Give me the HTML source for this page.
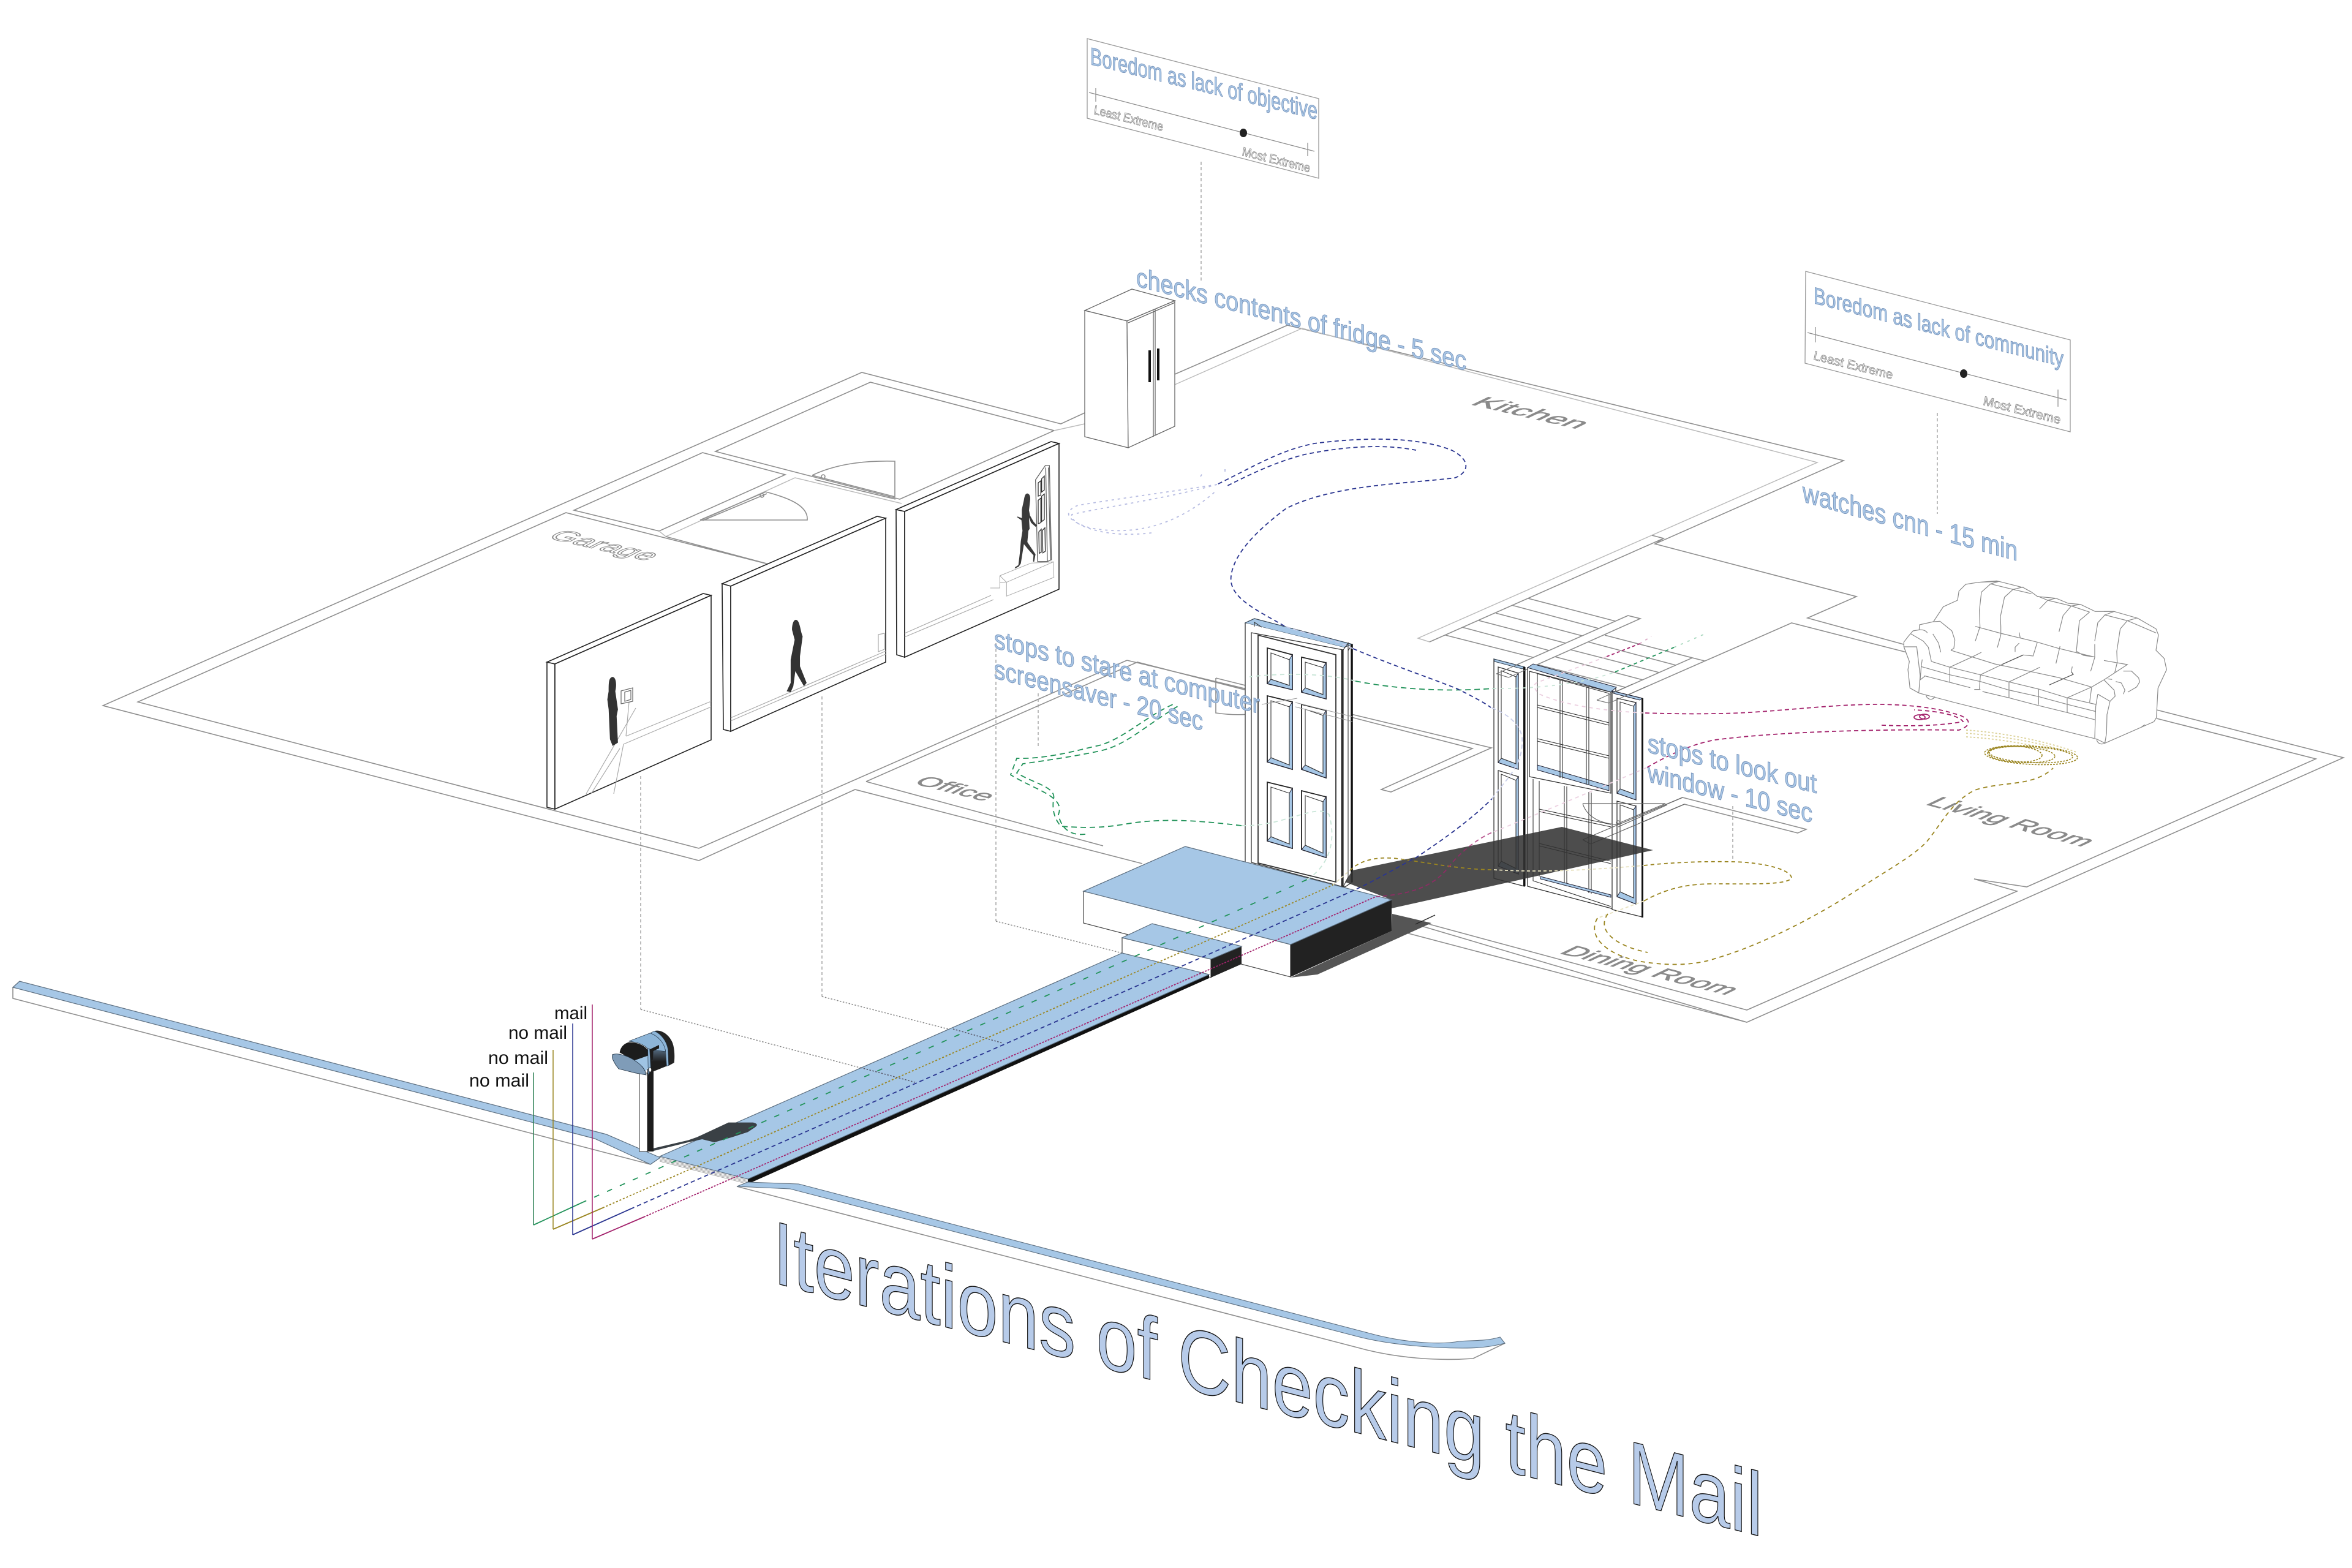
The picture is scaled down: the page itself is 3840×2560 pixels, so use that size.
<!DOCTYPE html>
<html><head><meta charset="utf-8"><title>Iterations of Checking the Mail</title>
<style>
html,body{margin:0;padding:0;background:#fff}
svg{display:block}
text{font-family:"Liberation Sans",sans-serif}
.w{fill:none;stroke:#8f8f8f;stroke-width:1.6}
.wl{fill:none;stroke:#bcbcbc;stroke-width:1.5}
.lb{fill:#a8c6e6;stroke:#7a96bc;stroke-width:1}
.rm{fill:#8a8a8a;stroke:#8a8a8a;stroke-width:.6}
.ex{fill:#fff;stroke:#8a8a8a;stroke-width:.9;font-style:italic}
.bl{fill:#a6c7e6;stroke:#5d6f80;stroke-width:1.2}
.pn{fill:#fff;stroke:#222;stroke-width:1.8}
.fr{fill:#fff;stroke:#333;stroke-width:1.3}
.bv{fill:#a6c7e6;stroke:#223;stroke-width:1}
.th{fill:none;stroke:#333;stroke-width:1.1}
.ld{fill:none;stroke:#999;stroke-width:1.3;stroke-dasharray:5 4}
.dt{fill:none;stroke:#888;stroke-width:1.5;stroke-dasharray:2.5 2.5}
.g{fill:none;stroke:#22935a;stroke-width:1.8}
.y{fill:none;stroke:#9a8520;stroke-width:1.8}
.n{fill:none;stroke:#2a3590;stroke-width:1.8}
.m{fill:none;stroke:#a3226c;stroke-width:1.8}
</style></head><body>
<svg xmlns="http://www.w3.org/2000/svg" width="3840" height="2560" viewBox="0 0 3840 2560">
<defs><linearGradient id="mb" gradientUnits="userSpaceOnUse" x1="0" y1="85" x2="0" y2="190"><stop offset="0" stop-color="#7ba3c9"/><stop offset="1" stop-color="#1e1e1e"/></linearGradient></defs>
<rect width="3840" height="2560" fill="#fff"/>

<!-- FLOOR PLAN -->
<g>
<path class="w" d="M1141,1405 L168,1152 L1407,608 L1732,692 L1771,674"/>
<path class="w" d="M1141,1385 L225,1146 L924,837 L1250,920"/>
<path class="w" d="M1141,1405 L1396,1289 L1865,1410"/>
<path class="w" d="M1141,1385 L1840,1078"/>
<path class="w" d="M1414,1276 L1857,1081 L2404,1222 L2255,1289 L2271,1293 L2435,1221 L1840,1078"/>
<path class="w" d="M1414,1276 L1801,1381"/>
<path class="w" d="M1168,737 L1421,624 L1721,703 L1469,815 Z"/>
<path class="wl" d="M1721,703 L1771,692"/>
<path class="w" d="M937,833 L1147,739 L1282,775 L1076,867 Z"/>
<path class="wl" d="M1076,867 L1087,876 L1298,780 L1472,822"/>
<path class="w" d="M1087,876 L1270,925"/>
<path class="wl" d="M1250,920 L1290,926 L1410,875 L1440,882"/>
<path class="w" d="M1326,776 L1461,811 M1330,783 L1462,815 M1326,776 C1370,755 1420,752 1461,753 L1461,811"/>
<path class="w" d="M1143,849 L1250,803 M1147,850 L1252,806 M1143,849 L1318,849 C1320,825 1285,812 1250,803"/>
<circle cx="1344" cy="778" r="3" class="w"/><circle cx="1244" cy="809" r="3" class="w"/>
<path class="w" d="M1918,611 L2102,531 L3010,752 L2702,888 L3031,974 L2951,1009 L3108,1052"/>
<path class="wl" d="M1918,628 L2126,536 L2967,755 L2315,1042 L2334,1048"/>
<path class="w" d="M2334,1048 L2716,879 L2697,874 M2716,879 L2702,888"/>
<path class="w" d="M3521,1159 L3826,1237 L2852,1669 L2311,1509 M2343,1494 L2311,1509 L2319,1505"/>
<path class="w" d="M3521,1173 L3781,1239 L3309,1448 L3223,1435 L3293,1455 L2852,1649 L2319,1505"/>
<path class="w" d="M2273,1517 L2852,1669"/>
<path class="w" d="M3113,1065 L2925,1017 L2627,1148 L2607,1143 L2763,1074 L2620,1037 M2763,1074 L2783,1079"/>
<path class="w" d="M2584,1371 L2747,1302 L2949,1354 L2935,1360 L2750,1313 L2597,1378 Z"/>
<!-- stairs -->
<path class="w" d="M2495,977 L2637,1014 M2468,988 L2610,1026 M2442,1001 L2583,1038 M2414,1013 L2556,1050 M2387,1024 L2529,1062 M2360,1037 L2502,1073"/>
<path class="w" d="M2658,1005 L2678,1010 L2463,1106 L2443,1100 Z"/>
<path class="w" d="M2593,1048 L2736,1086 M2565,1061 L2709,1098 M2538,1072 L2682,1110 M2510,1085 L2653,1122"/>
<!-- doors arcs -->
<path class="w" d="M1985,1107 L1985,1164 C2040,1172 2085,1162 2118,1140 L1985,1107"/>
</g>

<!-- room labels -->
<text class="rm" transform="matrix(1 .23 -1.3 .62 2399 660)" font-size="30" textLength="176" lengthAdjust="spacingAndGlyphs">Kitchen</text>
<text class="rm" transform="matrix(1 .25 -1.1 .62 1490 1279)" font-size="30" textLength="118" lengthAdjust="spacingAndGlyphs">Office</text>
<text class="rm" transform="matrix(1 .25 -1.3 .62 2544 1556)" font-size="30" textLength="275" lengthAdjust="spacingAndGlyphs">Dining Room</text>
<text class="rm" transform="matrix(1 .27 -1.3 .62 3142 1313)" font-size="30" textLength="258" lengthAdjust="spacingAndGlyphs">Living Room</text>
<text transform="matrix(1 .23 -1.2 .62 892 878)" font-size="32" fill="#fff" stroke="#8a8a8a" stroke-width="1.1" textLength="165" lengthAdjust="spacingAndGlyphs">Garage</text>

<!-- leaders -->
<path class="ld" d="M1961,264 L1961,462"/>
<path class="ld" d="M3163,674 L3163,839"/>
<path class="ld" d="M2829,1316 L2829,1403"/>
<path class="ld" d="M1695,1132 L1695,1219"/>
<path class="ld" d="M1046,1267 L1046,1648"/>
<path class="ld" d="M1342,1137 L1342,1627"/>
<path class="ld" d="M1626,1050 L1626,1504"/>
<path class="dt" d="M1046,1648 L1494,1767"/>
<path class="dt" d="M1342,1627 L1637,1703"/>
<path class="dt" d="M1626,1504 L1832,1556"/>

<!-- panels (stills) -->
<g>
<path d="M893,1081 L1148,969 L1161,972 L906,1084 Z M893,1081 L906,1084 L906,1321 L893,1318 Z" fill="#fff" stroke="#222" stroke-width="1.6"/>
<path d="M906,1084 L1161,972 L1161,1208 L906,1321 Z" fill="#fff" stroke="#222" stroke-width="1.6"/>
<path d="M1161,1145 L1022,1202 M1161,1154 L1018,1215 M1018,1215 L1002,1296 M1038,1156 L957,1296 M1022,1202 L1028,1135 M1012,1222 L965,1296" fill="none" stroke="#aaa" stroke-width="1.2"/>
<path d="M1014,1128 L1033,1123 L1033,1145 L1014,1149 Z M1020,1130 L1030,1127 L1030,1142 L1020,1145 Z" fill="#fff" stroke="#666" stroke-width="1.2"/>
<path d="M1179,953 L1432,843 L1446,846 L1193,957 Z M1179,953 L1193,957 L1193,1194 L1181,1191 Z" fill="#fff" stroke="#222" stroke-width="1.6"/>
<path d="M1193,957 L1446,846 L1446,1081 L1193,1194 Z" fill="#fff" stroke="#222" stroke-width="1.6"/>
<path d="M1193,1172 L1446,1063 M1193,1177 L1446,1068 M1434,1036 L1444,1034 L1444,1060 L1434,1064 Z" fill="none" stroke="#aaa" stroke-width="1.2"/>
<path d="M1463,832 L1716,721 L1729,724 L1477,835 Z M1463,832 L1477,835 L1477,1073 L1464,1069 Z" fill="#fff" stroke="#222" stroke-width="1.6"/>
<path d="M1477,835 L1729,724 L1729,962 L1477,1073 Z" fill="#fff" stroke="#222" stroke-width="1.6"/>
<path d="M1477,1034 L1618,972 M1477,1040 L1622,979" fill="none" stroke="#aaa" stroke-width="1.2"/>
<g transform="translate(1600 760) scale(.3333)" fill="none">
<path d="M97,540 L250,478 L360,472 L362,548 L130,640 L130,572 L97,540 M130,572 L360,472 M97,540 L97,600 L50,600 M97,575 L130,570" fill="#fff" stroke="#aaa" stroke-width="3"/>
<path d="M272,70 L320,0 L340,0 L350,462 L330,470 L282,470 Z M282,470 L272,70 M322,10 L330,468 M335,10 L345,462" fill="#fff" stroke="#666" stroke-width="4"/>
<path d="M285,85 L298,75 L298,145 L285,150 Z M302,65 L315,52 L315,120 L302,130 Z M285,170 L298,160 L298,280 L285,285 Z M302,150 L315,140 L315,265 L302,275 Z M288,325 L300,312 L300,425 L290,430 Z M305,318 L318,305 L320,420 L308,428 Z" stroke="#333" stroke-width="4"/>
<path fill="#3a3a3a" d="M232,137 C245,140 248,155 245,175 L240,220 L245,245 L262,275 L280,295 L272,300 L250,280 L240,255 L243,310 L237,320 L232,375 L245,395 L272,435 L265,472 L260,470 L262,440 L235,410 L215,385 L200,480 L190,495 L170,505 L172,498 L188,488 L195,430 L200,370 L208,320 L205,290 L203,268 L180,252 L185,250 L205,258 L205,215 L215,170 C218,150 222,137 232,137Z"/>
</g>
<g transform="matrix(1.0846 0 0 .542 100 600)" fill="#333">
<path d="M830,932 C836,934 836,960 834,975 L838,1030 L836,1050 L838,1130 L830,1140 L826,1120 L824,1030 L822,1000 L824,975 C824,950 824,934 830,932Z"/>
<path d="M1106,760 C1112,762 1112,790 1116,810 L1112,870 L1112,900 L1122,950 L1118,960 L1105,915 L1102,960 L1098,978 L1092,975 L1098,950 L1098,880 L1104,820 L1100,790 C1100,775 1102,760 1106,760Z"/>
</g>
</g>

<!-- fridge -->
<g fill="#fff" stroke="#666" stroke-width="1.3">
<path d="M1771,507 L1848,472 L1918,491 L1840,524 Z"/>
<path d="M1771,507 L1840,524 L1842,731 L1771,713 Z"/>
<path d="M1840,524 L1918,491 L1918,696 L1842,731 Z"/>
<path d="M1883,507 L1883,713 M1886,505 L1886,711" fill="none"/>
<path d="M1842,527 L1918,494" fill="none"/>
</g>
<rect x="1875" y="572" width="4" height="52" fill="#111"/><rect x="1889" y="569" width="4" height="52" fill="#111"/>

<!-- sofa -->
<g transform="translate(3090 930) scale(.3333)" fill="none" stroke="#8a8a8a" stroke-width="3.6">
<path fill="#fff" d="M200,255 L248,182 L318,150 L325,105 L358,72 L420,62 L510,55 L640,88 L680,110 L710,132 L800,140 L860,165 L920,170 L992,205 L1085,205 L1200,238 L1290,290 L1302,320 L1290,395 L1330,435 L1342,490 L1300,580 L1292,725 L1280,745 L1040,850 L1000,830 L780,775 L440,685 L300,650 L130,605 L85,580 L75,490 L82,450 L55,378 L55,355 L78,325 L100,300 L130,295 L132,270 Z"/>
<path d="M90,315 L150,350 L175,380 L190,450 M130,295 C150,293 165,300 170,310 M55,378 L118,378 L135,520 L128,605 M200,255 L232,253 L290,300 L305,345 L300,385 L285,395 M197,315 L225,360 L236,405 M145,440 L140,475 L135,540 L160,520"/>
<path d="M190,450 L280,478 L430,515 L570,550 L715,585 L855,628 L995,660 M140,475 L280,515 L430,548 L570,590 L715,622 L855,660 L995,695 M155,520 L280,552 L380,578 M440,597 L570,628 L700,662 L855,700 L990,735 M400,587 L430,587 M280,478 L280,552 M430,515 L425,587 M570,550 L570,628 M715,585 L715,662 M855,628 L855,700"/>
<path d="M285,395 L500,462 L680,500 L810,528 L975,575 M280,478 L395,425 L435,405 M430,515 L535,465 L640,418 L688,423 L708,358 M570,550 L680,498 L722,478 M855,628 L975,575 L1035,540 L1150,465 L1035,445 M875,500 L880,475"/>
<path stroke="#555" d="M767,565 L885,513 L875,500 M535,465 L640,418"/>
<path d="M405,278 L530,312 L625,335 L708,355 L810,385 L905,408 L990,428 M480,70 L435,110 L425,200 L428,280 L405,350 M590,97 L548,135 L528,230 L530,280 L530,320 L513,382 M760,150 L720,192 M875,178 L835,225 L815,305 M820,375 L800,460 M965,208 L915,250 L900,400 L935,420 L990,428 M1040,222 L1005,260 L990,350 M990,365 L990,430 L970,498 M1150,250 L1115,290 L1098,400 L1100,455 L1088,505 M620,308 L625,335 M620,360 L600,380 L600,403"/>
<path d="M420,62 L520,58 L480,70 L590,97 L640,85 M590,97 L680,118 M710,130 L760,150 L800,140 M760,150 L875,178 L920,170 M875,178 L965,208 M1035,205 L1085,205 L1040,222 L1150,250 L1195,238 M1150,250 L1290,310"/>
<path d="M975,575 L965,650 M1005,610 L1065,645 L1050,710 L1048,800 L1040,848 M1005,610 L995,670 L990,825 M1035,540 L1085,590 L1090,620 L1065,645 M1130,497 L1170,497 L1205,530 L1210,550 L1195,575 L1152,600 M1093,548 L1120,555 L1138,590 L1130,610 M1052,535 L1075,538"/>
<path d="M163,612 C165,635 195,645 207,622 M1000,830 C1000,850 1020,860 1040,850 M1220,770 L1235,760"/>
</g>

<!-- cards -->
<path d="M1775,63 L2153,161 L2153,291 L1775,193 Z" fill="#fff" stroke="#999" stroke-width="1.3"/>
<path d="M1778,151 L2146,247 M1789,144 L1789,166 M2135,233 L2135,255" fill="none" stroke="#8a8a8a" stroke-width="1.2"/>
<ellipse cx="2030" cy="217" rx="6" ry="7" fill="#222"/>
<text class="lb" transform="matrix(1 .243 0 1 1780 105)" font-size="40" textLength="371" lengthAdjust="spacingAndGlyphs">Boredom as lack of objective</text>
<text class="ex" transform="matrix(1 .25 0 1 1786 186)" font-size="21" textLength="113" lengthAdjust="spacingAndGlyphs">Least Extreme</text>
<text class="ex" transform="matrix(1 .25 0 1 2028 254)" font-size="21" textLength="111" lengthAdjust="spacingAndGlyphs">Most Extreme</text>

<path d="M2948,443 L3380,555 L3380,705 L2947,593 Z" fill="#fff" stroke="#999" stroke-width="1.3"/>
<path d="M2951,543 L3374,653 M2964,534 L2964,559 M3360,636 L3360,664" fill="none" stroke="#8a8a8a" stroke-width="1.2"/>
<ellipse cx="3206" cy="610" rx="6" ry="7" fill="#222"/>
<text class="lb" transform="matrix(1 .255 0 1 2961 495)" font-size="38" textLength="408" lengthAdjust="spacingAndGlyphs">Boredom as lack of community</text>
<text class="ex" transform="matrix(1 .25 0 1 2961 587)" font-size="21" textLength="129" lengthAdjust="spacingAndGlyphs">Least Extreme</text>
<text class="ex" transform="matrix(1 .25 0 1 3238 661)" font-size="21" textLength="126" lengthAdjust="spacingAndGlyphs">Most Extreme</text>

<!-- WINDOW + SHUTTERS -->
<g>
<path d="M2439,1076 L2489,1089 L2489,1447 L2439,1434 Z" class="fr"/>
<path d="M2439,1076 L2489,1089 L2485,1092 L2440,1080 Z" fill="#a6c7e6" stroke="#345" stroke-width="1"/>
<path class="fr" d="M2446,1089 L2479,1099 L2479,1256 L2446,1245 Z"/>
<path class="bv" d="M2479,1099 L2479,1256 L2446,1245 L2451,1238 L2475,1247 L2475,1105Z"/>
<path class="th" d="M2451,1095 L2475,1105 L2475,1247 L2451,1238Z"/>
<path class="fr" d="M2446,1258 L2479,1268 L2479,1427 L2446,1414 Z"/>
<path class="bv" d="M2479,1268 L2479,1427 L2446,1414 L2451,1406 L2475,1418 L2475,1274Z"/>
<path class="th" d="M2451,1264 L2475,1274 L2475,1418 L2451,1406Z"/>
<rect x="2487" y="1089" width="3.5" height="358" fill="#111"/>

<path class="fr" d="M2494,1090 L2638,1124 L2638,1485 L2494,1447 Z"/>
<path class="bv" d="M2494,1090 L2503,1084 L2639,1122 L2630,1130 Z"/>
<path class="fr" d="M2497,1096 L2630,1130 L2630,1295 L2497,1268 Z"/>
<path class="th" d="M2510,1100 L2627,1132 L2627,1283 L2510,1257 Z"/>
<path class="bv" d="M2510,1257 L2627,1291 L2627,1283 L2510,1249 Z"/>
<path class="th" d="M2547,1110 L2547,1270 M2551,1111 L2551,1271 M2590,1121 L2590,1280 M2594,1122 L2594,1281 M2510,1151 L2627,1180 M2510,1155 L2627,1184 M2510,1206 L2627,1234 M2510,1210 L2627,1238"/>
<path class="th" d="M2503,1272 L2503,1438 L2630,1480 M2513,1275 L2513,1431 M2554,1283 L2554,1445 M2558,1284 L2558,1447 M2594,1293 L2594,1458 M2598,1294 L2598,1459 M2513,1321 L2630,1346 M2513,1325 L2630,1350 M2513,1377 L2630,1406 M2513,1381 L2630,1410"/>
<path class="bv" d="M2515,1431 L2630,1461 L2630,1465 L2515,1435 Z"/>

<path class="fr" d="M2632,1128 L2681,1140 L2681,1497 L2632,1485 Z"/>
<path class="bv" d="M2632,1128 L2681,1140 L2677,1143 L2634,1132 Z"/>
<path class="fr" d="M2640,1140 L2671,1147 L2671,1306 L2640,1295 Z"/>
<path class="bv" d="M2671,1147 L2671,1306 L2640,1295 L2645,1288 L2667,1296 L2667,1153Z"/>
<path class="th" d="M2645,1146 L2667,1153 L2667,1296 L2645,1288Z"/>
<path class="fr" d="M2640,1308 L2671,1316 L2671,1476 L2640,1464 Z"/>
<path class="bv" d="M2671,1316 L2671,1476 L2640,1464 L2645,1456 L2667,1466 L2667,1322Z"/>
<path class="th" d="M2645,1314 L2667,1322 L2667,1466 L2645,1456Z"/>
<rect x="2680" y="1140" width="3" height="358" fill="#111"/>
</g>
<!-- plan lines showing through window -->
<path d="M2443,1100 L2463,1106 L2490,1094 M2443,1100 L2480,1084 M2607,1143 L2627,1148 L2690,1120 M2607,1143 L2665,1117" fill="none" stroke="#777" stroke-width="1.2"/>
<path d="M2584,1312 L2719,1312 L2638,1346 C2610,1344 2590,1332 2584,1312 M2722,1314 L2642,1350 M2584,1371 L2747,1302 M2597,1378 L2750,1313 M2584,1371 L2597,1378" fill="none" stroke="#666" stroke-width="1.2"/>
<circle cx="2642" cy="1343" r="3" fill="none" stroke="#666" stroke-width="1.2"/>

<!-- FRONT DOOR -->
<g>
<path class="fr" d="M2048,1010 L2208,1052 L2208,1440 L2196,1448 L2033,1408 L2033,1017 Z"/>
<path d="M2033,1017 L2048,1010 L2208,1052 L2194,1057 Z" fill="#a6c7e6" stroke="#345" stroke-width="1"/>
<path d="M2038,1019 L2194,1060 L2194,1057 L2033,1017 Z" fill="#fff"/>
<path class="fr" d="M2043,1033 L2193,1061 L2193,1448 L2043,1408 Z"/>
<path class="fr" d="M2054,1037 L2181,1069 L2181,1440 L2054,1409 Z" style="stroke-width:1.8"/>
<path class="th" d="M2048,1023 L2048,1016 L2060,1024 M2193,1061 L2201,1050 L2201,1432 L2193,1448 M2208,1052 L2201,1062"/>
<path d="M2207,1052 L2207,1440" stroke="#111" stroke-width="3.4"/>
<path d="M2191,1061 L2191,1448" stroke="#111" stroke-width="2.2"/>
<g>
<path class="pn" d="M2069,1058 L2110,1069 L2110,1126 L2069,1116 Z"/><path class="bv" d="M2110,1069 L2110,1126 L2069,1116 L2075,1109 L2105,1119 L2105,1077Z"/><path class="th" d="M2075,1066 L2105,1077 L2105,1119 L2075,1109Z"/>
<path class="pn" d="M2125,1073 L2165,1082 L2165,1141 L2125,1130 Z"/><path class="bv" d="M2165,1082 L2165,1141 L2125,1130 L2131,1123 L2160,1134 L2160,1090Z"/><path class="th" d="M2131,1081 L2160,1090 L2160,1134 L2131,1123Z"/>
<path class="pn" d="M2069,1136 L2110,1146 L2110,1256 L2069,1244 Z"/><path class="bv" d="M2110,1146 L2110,1256 L2069,1244 L2075,1237 L2105,1249 L2105,1154Z"/><path class="th" d="M2075,1144 L2105,1154 L2105,1249 L2075,1237Z"/>
<path class="pn" d="M2125,1150 L2165,1160 L2165,1270 L2125,1256 Z"/><path class="bv" d="M2165,1160 L2165,1270 L2125,1256 L2131,1249 L2160,1263 L2160,1168Z"/><path class="th" d="M2131,1158 L2160,1168 L2160,1263 L2131,1249Z"/>
<path class="pn" d="M2069,1277 L2110,1287 L2110,1385 L2069,1373 Z"/><path class="bv" d="M2110,1287 L2110,1385 L2069,1373 L2075,1366 L2105,1378 L2105,1295Z"/><path class="th" d="M2075,1285 L2105,1295 L2105,1378 L2075,1366Z"/>
<path class="pn" d="M2125,1291 L2165,1301 L2165,1400 L2125,1387 Z"/><path class="bv" d="M2165,1301 L2165,1400 L2125,1387 L2131,1380 L2160,1393 L2160,1309Z"/><path class="th" d="M2131,1299 L2160,1309 L2160,1393 L2131,1380Z"/>
</g>
<path d="M2115,1147 L2208,1170 M2115,1154 L2208,1178 M2060,1150 L2118,1140" fill="none" stroke="#999" stroke-width="1"/>
</g>

<!-- BLOCK + SHADOWS -->
<path d="M2107,1596 L2151,1591 L2337,1507 L2273,1492 L2272,1520 Z" fill="#555"/>
<path d="M2196,1440 L2208,1421 L2550,1350 L2699,1388 L2272,1483 L2272,1469 Z" fill="#333" opacity=".87"/>
<path d="M2343,1494 L2311,1509 L2319,1505" fill="none" stroke="#222" stroke-width="1"/>
<path d="M1769,1455 L2107,1542 L2107,1595 L1769,1507 Z" fill="#fff" stroke="#444" stroke-width="1.2"/>
<path d="M2107,1542 L2272,1469 L2272,1520 L2107,1595 Z" fill="#222"/>
<path class="bl" d="M1935,1382 L2272,1469 L2107,1542 L1769,1455 Z"/>
<path d="M1832,1531 L1977,1566 L1977,1596 L1832,1556 Z" fill="#fff" stroke="#444" stroke-width="1.2"/>
<path d="M1977,1566 L2027,1545 L2027,1574 L1977,1596 Z" fill="#222"/>
<path class="bl" d="M1881,1508 L2027,1545 L1977,1566 L1832,1531 Z"/>

<!-- WALKWAY -->
<path d="M1221,1925 L1974,1591 L1974,1597 L1221,1933 Z" fill="#111"/>
<path class="bl" d="M1077,1888 L1832,1556 L1974,1591 L1221,1925 Z"/>
<path d="M1077,1890 L1221,1927 M1077,1892 L1221,1929 M1077,1894 L1221,1931 M1077,1896 L1221,1933" stroke="#999" stroke-width=".9" fill="none"/>
<path class="dt" d="M1405,1743 L1494,1767 M1556,1680 L1637,1703" style="stroke:#556"/>
<!-- mailbox shadow -->
<g transform="matrix(.574 0 0 .3333 1000 1600)">
<path fill="#3a4045" d="M115,825 L215,785 L240,770 L330,698 L400,698 C415,705 412,712 405,722 L385,745 L340,770 L290,795 L255,780 L215,795 L115,838 Z"/>
</g>

<!-- ROADS -->
<path class="w" d="M21,1612 L21,1630 L1062,1901"/>
<path class="bl" d="M32,1602 L21,1612 L971,1859 L1062,1901 L1078,1890 L990,1852 Z"/>
<path class="w" d="M1203,1937 L2216,2200 C2280,2218 2350,2222 2405,2218 L2457,2193"/>
<path d="M1221,1930 L1304,1933 L2233,2176 C2290,2192 2350,2196 2382,2190 C2405,2188 2425,2190 2449,2183 L2457,2193 C2430,2200 2410,2201 2388,2201 C2340,2201 2270,2196 2216,2182 L1290,1941 L1203,1937 Z" fill="#a6c7e6" stroke="#5d6f80" stroke-width="1.1"/>

<!-- MAILBOX -->
<rect x="1044" y="1752" width="13" height="128" fill="#fff" stroke="#333" stroke-width="1"/>
<rect x="1057" y="1745" width="10" height="135" fill="#1c1c1c"/>
<g transform="translate(990 1670) scale(.3333)">
<path d="M235,40 C270,30 310,60 325,100 C335,130 335,170 332,195 L305,210 L300,130 C295,90 270,55 235,40 Z" fill="#242424"/>
<path d="M215,50 L235,40 C270,55 295,90 302,130 L305,208 L295,212 L290,140 C285,100 255,65 215,50 Z" fill="#8db5d8" stroke="#234" stroke-width="2"/>
<path d="M205,125 L290,130 L295,212 L225,240 L205,255 Z" fill="url(#mb)"/>
<path d="M110,90 L215,50 C255,65 285,100 290,140 L205,130 C190,110 160,95 110,90 Z" fill="#8db5d8" stroke="#234" stroke-width="2"/>
<path d="M65,145 C70,115 90,100 110,95 C160,95 190,115 205,135 L205,170 L135,185 Z" fill="#1c1c1c"/>
<path d="M135,185 L205,160 L205,220 L190,240 Z" fill="#9fc4e4"/>
<path d="M203,125 L212,128 L218,232 L205,255 Z" fill="#8db5d8" stroke="#234" stroke-width="2"/>
<path d="M212,130 L258,108 L258,125 L230,138 L228,180 L218,185 Z" fill="#1c1c1c"/>
<path d="M30,155 C60,145 110,165 140,185 C170,205 190,225 195,255 L140,245 L60,225 L45,205 C35,185 25,175 30,155 Z" fill="#7f9cb8" stroke="#234" stroke-width="2.5"/>
<ellipse cx="214" cy="230" rx="7" ry="11" fill="#fff" stroke="#222" stroke-width="2.5"/>
</g>

<!-- PATHS: ghosts -->
<g fill="none" stroke-width="1.8">
<path stroke="#b8bde2" stroke-dasharray="4 6" d="M1987,791 C1930,800 1820,815 1760,825 C1735,835 1740,850 1780,862 C1850,875 1920,860 1987,800 M1987,791 C1900,815 1790,830 1750,840 C1745,855 1800,880 1880,870"/>
<path stroke="#b8bde2" stroke-dasharray="4 6" d="M1960,778 L1965,770 M2000,770 L2000,760"/>
<path stroke="#c9cee9" stroke-dasharray="7 5" d="M2436,1304 C2460,1270 2488,1250 2485,1203 C2480,1180 2460,1165 2434,1155"/>
<path stroke="#c9cee9" stroke-dasharray="7 5" d="M2209,1059 C2170,1040 2130,1035 2097,1022"/>
<path stroke="#c9e6d8" stroke-dasharray="5 7" d="M2438,1124 C2500,1125 2580,1118 2637,1097"/>
<path stroke="#a9d8bf" stroke-dasharray="4 8" d="M2733,1057 L2788,1033"/>
<path stroke="#c9e6d8" stroke-dasharray="7 6" d="M2213,1112 C2170,1100 2100,1098 2040,1105 M2134,1436 C2160,1420 2185,1385 2170,1330 C2150,1310 2095,1350 2027,1348"/>
<path stroke="#ecd0e0" stroke-dasharray="6 6" d="M2439,1358 C2510,1329 2580,1300 2689,1253"/>
<path stroke="#ecd0e0" stroke-dasharray="6 6" d="M2684,1164 C2610,1160 2550,1150 2513,1133 C2500,1120 2505,1116 2513,1113 L2623,1072"/>
<path stroke="#dba7c4" stroke-dasharray="4 7" d="M2677,1051 L2696,1039"/>
<path stroke="#e8e2c0" stroke-dasharray="5 4" d="M2439,1420 C2520,1425 2600,1420 2684,1413"/>
<path stroke="#e8e2c0" stroke-dasharray="5 4" d="M2176,1445 L2204,1421 M2684,1471 L2608,1499"/>
<path stroke="#dcd29a" stroke-dasharray="3 3" d="M3210,1192 C3270,1196 3340,1210 3390,1228 M3210,1197 C3270,1202 3330,1212 3370,1226 M3210,1203 C3260,1206 3310,1214 3345,1224"/>
</g>

<!-- PATHS: solid -->
<g>
<!-- green -->
<path class="g" d="M871,2000 L949,1964"/>
<path class="g" stroke-dasharray="9 14" d="M949,1964 L2134,1436"/>
<path class="g" stroke-dasharray="9 6" d="M2027,1348 C1960,1340 1900,1335 1840,1345 C1800,1352 1770,1352 1732,1349 C1720,1335 1718,1320 1720,1305 C1725,1285 1690,1280 1660,1262 L1670,1247 C1720,1240 1770,1232 1800,1225 C1840,1215 1870,1185 1923,1153"/>
<path class="g" stroke-dasharray="9 6" d="M1772,1362 C1745,1365 1732,1350 1728,1330 C1740,1300 1690,1290 1650,1265 L1660,1238 C1710,1240 1770,1222 1790,1218 C1830,1210 1870,1170 1915,1150"/>
<path class="g" stroke-dasharray="9 6" d="M2213,1112 C2280,1125 2360,1130 2438,1124"/>
<path class="g" stroke-dasharray="6 5" d="M2637,1097 L2733,1057"/>
<!-- gold -->
<path class="y" d="M903,2007 L984,1972"/>
<path class="y" stroke-dasharray="3 3" d="M984,1972 L2176,1445"/>
<path class="y" stroke-dasharray="6 5" d="M2204,1421 C2225,1400 2260,1398 2290,1403 C2340,1410 2390,1420 2439,1420"/>
<path class="y" stroke-dasharray="6 5" d="M2684,1413 C2730,1408 2780,1406 2830,1407 C2880,1408 2925,1420 2925,1434 C2915,1445 2860,1443 2800,1443"/>
<path class="y" stroke-dasharray="7 5" d="M2684,1471 C2730,1445 2770,1443 2800,1443"/>
<path class="y" stroke-dasharray="7 6" d="M2608,1499 C2590,1530 2625,1560 2680,1570 C2730,1578 2770,1575 2800,1565 C2870,1545 2960,1500 3032,1453 C3090,1415 3120,1400 3145,1375 C3170,1345 3185,1310 3224,1290 C3270,1275 3320,1285 3352,1254"/>
<path class="y" stroke-dasharray="7 6" d="M2625,1492 C2605,1520 2640,1545 2690,1555"/>
<g stroke="#9a8520" fill="none" stroke-width="1.6" stroke-dasharray="3 2">
<ellipse cx="3316" cy="1233" rx="76" ry="15" transform="rotate(3 3316 1233)"/>
<ellipse cx="3316" cy="1232" rx="68" ry="13" transform="rotate(3 3316 1232)"/>
<ellipse cx="3300" cy="1232" rx="55" ry="13" transform="rotate(3 3300 1232)"/>
<ellipse cx="3290" cy="1231" rx="44" ry="13" transform="rotate(3 3290 1231)"/>
</g>
<!-- navy -->
<path class="n" d="M935,2016 L1029,1974"/>
<path class="n" stroke-dasharray="7 5" d="M1029,1974 L2205,1456 C2250,1436 2300,1405 2309,1402 C2350,1375 2400,1340 2436,1304"/>
<path class="n" stroke-dasharray="7 5" d="M2209,1059 C2270,1085 2330,1105 2378,1124 C2400,1135 2420,1145 2434,1155"/>
<path class="n" stroke-dasharray="7 5" d="M2097,1022 C2050,995 2005,975 2010,940 C2015,900 2060,860 2100,830 C2180,790 2300,790 2376,780 C2400,770 2400,750 2370,735 C2320,715 2240,712 2146,724 C2090,735 2050,760 1987,791"/>
<path class="n" stroke-dasharray="7 5" d="M2312,735 C2260,725 2200,728 2130,742 C2080,755 2040,775 2000,795"/>
<!-- magenta -->
<path class="m" d="M967,2023 L1051,1987"/>
<path class="m" stroke-dasharray="3 2" d="M1051,1987 L2246,1464"/>
<path class="m" stroke-dasharray="7 5" opacity=".75" d="M2246,1464 C2300,1460 2340,1450 2367,1413 C2390,1385 2420,1365 2439,1358"/>
<path class="m" stroke-dasharray="7 5" d="M2689,1253 C2720,1235 2760,1215 2800,1208 C2900,1195 3060,1190 3198,1192 C3220,1185 3220,1172 3190,1165 C3160,1155 3110,1150 3065,1150 C2980,1150 2880,1165 2800,1165 C2760,1166 2720,1165 2684,1164"/>
<path class="m" stroke-dasharray="7 5" d="M3072,1184 C3120,1186 3170,1185 3205,1178 C3195,1165 3150,1160 3125,1159"/>
<ellipse cx="3134" cy="1171" rx="9" ry="4" fill="none" stroke="#a3226c" stroke-width="1.8"/>
<ellipse cx="3142" cy="1170" rx="8" ry="4" fill="none" stroke="#a3226c" stroke-width="1.8"/>
<path class="m" stroke-dasharray="5 4" d="M2623,1072 L2677,1051"/>
<!-- verticals -->
<path d="M871,1751 L871,2000" stroke="#2d8055" stroke-width="1.5" fill="none"/>
<path d="M903,1714 L903,2007" stroke="#9a8520" stroke-width="1.5" fill="none"/>
<path d="M935,1671 L935,2016" stroke="#2a3590" stroke-width="1.5" fill="none"/>
<path d="M967,1640 L967,2023" stroke="#a3226c" stroke-width="1.5" fill="none"/>
</g>

<!-- mail labels -->
<g font-size="30" fill="#111">
<text x="905" y="1664" textLength="54" lengthAdjust="spacingAndGlyphs">mail</text>
<text x="830" y="1696" textLength="96" lengthAdjust="spacingAndGlyphs">no mail</text>
<text x="797" y="1737" textLength="98" lengthAdjust="spacingAndGlyphs">no mail</text>
<text x="766" y="1774" textLength="98" lengthAdjust="spacingAndGlyphs">no mail</text>
</g>

<!-- annotation labels -->
<text class="lb" transform="matrix(1 .256 0 1 1855 467)" font-size="44" textLength="539" lengthAdjust="spacingAndGlyphs">checks contents of fridge - 5 sec</text>
<text class="lb" transform="matrix(1 .276 0 1 2943 819)" font-size="46" textLength="351" lengthAdjust="spacingAndGlyphs">watches cnn - 15 min</text>
<text class="lb" transform="matrix(1 .243 0 1 2690 1228)" font-size="44" textLength="276" lengthAdjust="spacingAndGlyphs">stops to look out</text>
<text class="lb" transform="matrix(1 .25 0 1 2690 1276)" font-size="44" textLength="269" lengthAdjust="spacingAndGlyphs">window - 10 sec</text>
<text class="lb" transform="matrix(1 .247 0 1 1623 1058)" font-size="44" textLength="434" lengthAdjust="spacingAndGlyphs">stops to stare at computer</text>
<text class="lb" transform="matrix(1 .252 0 1 1623 1107)" font-size="44" textLength="341" lengthAdjust="spacingAndGlyphs">screensaver - 20 sec</text>

<!-- title -->
<text transform="matrix(1 .257 0 1 1262 2094)" font-size="146" fill="#b7cbe9" stroke="#111" stroke-width="1.4" textLength="1616" lengthAdjust="spacingAndGlyphs">Iterations of Checking the Mail</text>
</svg>
</body></html>
